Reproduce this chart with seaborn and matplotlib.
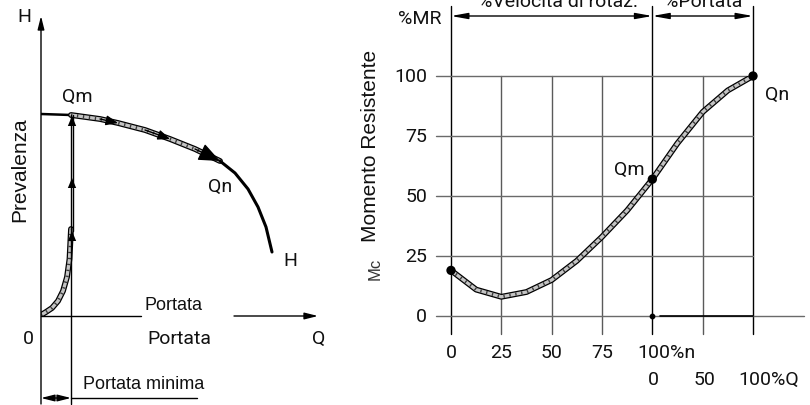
import matplotlib.pyplot as plt
import numpy as np
import seaborn as sns

# left sketch: pump curve H(Q), arbitrary units
h_q = [0, 12, 23.6, 30.8, 41.6, 51.6, 61.6, 71.6, 77.6, 82.8, 86.8, 90, 92.4]
h_h = [101, 100.5, 98.5, 96.5, 93, 88.5, 83.5, 77.5, 71.5, 63.5, 54.5, 44.5, 32]
start_q = [0, 2, 4.4, 6.8, 8.8, 10.4, 11.4, 12]
start_h = [0.5, 2, 4, 7.5, 12.5, 19.5, 28.5, 43.5]
q_min = 12
i_qm, i_qn = 1, 7
lift_arrows = [100, 69, 42.5]

# right chart: resisting torque vs speed / flow
speed = [0, 12.5, 25, 37.5, 50, 62.5, 75, 87.5, 100, 112.5, 125, 137.5, 150]
moment = [19, 11, 8, 10, 15, 23, 33, 44, 57, 72, 85, 94, 100]
n_ticks = [0, 25, 50, 75]
q_ticks = [0, 50, 100]
mr_ticks = [0, 25, 50, 75, 100]
key_points = [0, 8, 12]  # indices of 0, Qm, Qn

W, H = 810, 406
TECH = ['Roboto', 'DejaVu Sans']
ARIAL = ['Liberation Sans', 'DejaVu Sans']

sns.set_style('white')
plt.rcParams['font.family'] = ARIAL

fig = plt.figure(figsize=(W / 100, H / 100), dpi=100)


def ftext(px, py, s, **kw):
    kw.setdefault('family', TECH)
    kw.setdefault('fontsize', 14)
    kw.setdefault('ha', 'center')
    kw.setdefault('va', 'center')
    kw.setdefault('color', '#111111')
    fig.text(px / W, 1 - py / H, s, **kw)


def hatched(ax, x, y):
    sns.lineplot(x=x, y=y, ax=ax, color='black', lw=4.2, sort=False)
    sns.lineplot(x=x, y=y, ax=ax, color='#c4c4c4', lw=2.4, sort=False)
    sns.lineplot(x=x, y=y, ax=ax, color='#3a3a3a', lw=2.4, sort=False,
                 linestyle=(0, (0.4, 1.4)))


# ---------------- left panel ----------------
axl = fig.add_axes([41 / W, 89 / H, 277 / W, 300 / H])
axl.set_xlim(0, 110.8)
axl.set_ylim(0, 150)
axl.axis('off')

sns.lineplot(x=h_q[:i_qm + 1], y=h_h[:i_qm + 1], ax=axl, color='black', lw=1.8)
hatched(axl, h_q[i_qm:i_qn + 1], h_h[i_qm:i_qn + 1])
sns.lineplot(x=h_q[i_qn:], y=h_h[i_qn:], ax=axl, color='black', lw=2.2)
hatched(axl, start_q, start_h)

arrow_kw = dict(arrowstyle='-|>,head_length=0.6,head_width=0.25', color='black', lw=1)
for k, ms in [(3, 12), (5, 12), (7, 22)]:
    axl.annotate('', xy=(h_q[k], h_h[k]), xytext=(h_q[k - 1], h_h[k - 1]),
                 arrowprops=dict(arrow_kw, mutation_scale=ms, shrinkA=0, shrinkB=0))

# minimum flow vertical
axl.plot([q_min, q_min], [h_h[i_qm], -44], color='black', lw=1, clip_on=False)
axl.plot([q_min + 0.8, q_min + 0.8], [h_h[i_qm], lift_arrows[-1]], color='black', lw=1)
for a in lift_arrows:
    axl.annotate('', xy=(q_min + 0.4, a), xytext=(q_min + 0.4, a - 8),
                 arrowprops=dict(arrow_kw, mutation_scale=12, shrinkA=0, shrinkB=0, lw=0))

# axes
axl.annotate('', xy=(0, 150), xytext=(0, -44), annotation_clip=False,
             arrowprops=dict(arrowstyle='-|>,head_length=0.8,head_width=0.2',
                             color='black', lw=1, mutation_scale=10, shrinkA=0, shrinkB=0))
axl.plot([0, 40], [0, 0], color='black', lw=1, clip_on=False)
axl.annotate('', xy=(110.8, 0), xytext=(77.2, 0), annotation_clip=False,
             arrowprops=dict(arrowstyle='-|>,head_length=0.8,head_width=0.2',
                             color='black', lw=1, mutation_scale=10, shrinkA=0, shrinkB=0))
# portata minima dimension
axl.annotate('', xy=(0, -41), xytext=(q_min, -41), annotation_clip=False,
             arrowprops=dict(arrowstyle='<|-|>,head_length=0.8,head_width=0.2',
                             color='black', lw=1, mutation_scale=10, shrinkA=0, shrinkB=0))
axl.plot([q_min, 62.4], [-41, -41], color='black', lw=1, clip_on=False)

ftext(24.5, 17, 'H')
ftext(77, 97, 'Qm')
ftext(220, 187, 'Qn')
ftext(290, 261, 'H')
ftext(28, 339, '0')
ftext(319, 339, 'Q')
ftext(179, 339, 'Portata')
ftext(173, 305, 'Portata', family=ARIAL, fontsize=13)
ftext(144, 385, 'Portata minima', family=ARIAL, fontsize=13)
ftext(20, 170, 'Prevalenza', family=ARIAL, fontsize=15, rotation=90)

# ---------------- right panel ----------------
axr = fig.add_axes([451 / W, 89 / H, 302 / W, 240 / H])
axr.set_xlim(0, 150)
axr.set_ylim(0, 100)
axr.axis('off')

grid_x = n_ticks + [100 + q / 2 for q in q_ticks]
for gx in grid_x:
    major = gx in (0, 100, 150)
    axr.plot([gx, gx], [-7.5, 129 if major else 100], color='black' if major else '#5a5a5a',
             lw=1, clip_on=False, zorder=1)
for gy in mr_ticks:
    axr.plot([-7.5, 175.4 if gy == 0 else 150], [gy, gy], color='#6a6a6a', lw=1,
             clip_on=False, zorder=1)
axr.plot([103.8, 150], [0, 0], color='black', lw=1.2, zorder=2, clip_on=False)
axr.scatter([100], [0], s=10, color='black', zorder=3, clip_on=False)

hatched(axr, speed, moment)
sns.scatterplot(x=[speed[i] for i in key_points], y=[moment[i] for i in key_points],
                ax=axr, s=45, color='black', zorder=5, clip_on=False, edgecolor='none')

dim_kw = dict(arrowstyle='<|-|>,head_length=1.0,head_width=0.18', color='black',
              lw=1, mutation_scale=10, shrinkA=0, shrinkB=0)
axr.annotate('', xy=(0, 125), xytext=(100, 125), annotation_clip=False, arrowprops=dim_kw)
axr.annotate('', xy=(100, 125), xytext=(150, 125), annotation_clip=False, arrowprops=dim_kw)

for gy in mr_ticks:
    ftext(427, 317 - gy * 2.4, str(gy), ha='right')
for gx in n_ticks:
    ftext(451 + gx * 2.013, 353, str(gx))
ftext(637, 353, '100%n', ha='left')
ftext(653, 380, str(q_ticks[0]))
ftext(705, 380, str(q_ticks[1]))
ftext(738, 380, '100%Q', ha='left')

ftext(420, 19, '%MR')
ftext(558, 2, '%Velocità di rotaz.')
ftext(703, 2, '%Portata')
ftext(629, 170, 'Qm')
ftext(777, 95, 'Qn')
ftext(370, 146, 'Momento Resistente', family=ARIAL, fontsize=15, rotation=90)
ftext(375, 269, 'Mc', family=ARIAL, fontsize=12, rotation=90, color='#333333')

fig.savefig('out.png', dpi=100)
